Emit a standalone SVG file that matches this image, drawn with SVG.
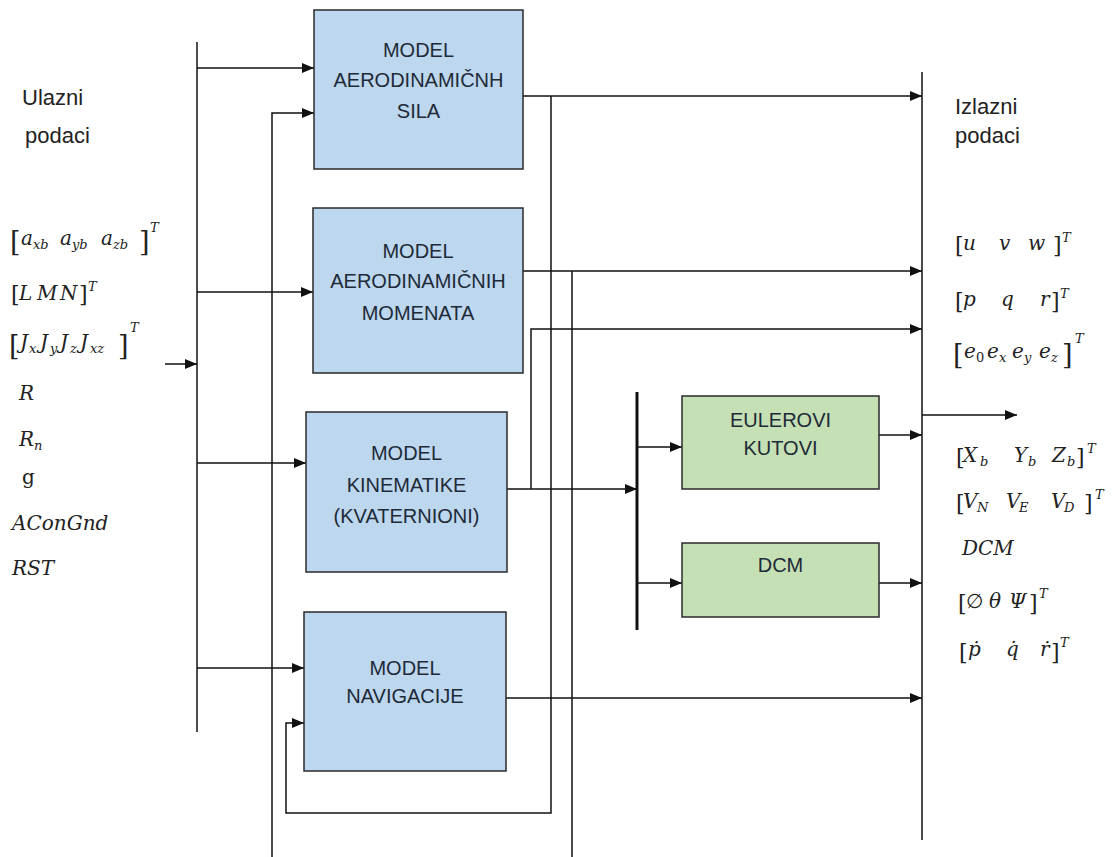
<svg xmlns="http://www.w3.org/2000/svg" width="1113" height="857" viewBox="0 0 1113 857">
<style>
.bx{fill:#bdd7ee;stroke:#2a2a2a;stroke-width:1.5}
.gx{fill:#c5e0b4;stroke:#2a2a2a;stroke-width:1.5}
.t{font-family:"Liberation Sans",Arial,sans-serif;font-size:20px;fill:#1e2a38;text-anchor:middle}
.lb{font-family:"Liberation Sans",Arial,sans-serif;font-size:22px;fill:#222}
.m{font-family:"DejaVu Serif",serif;font-style:italic;font-size:20px;fill:#222}
.s{font-size:13px}
.u{font-style:normal}
.br{font-style:normal;font-size:22px}
.bb{font-style:normal;font-size:27px}
.c line,.c path{stroke:#111;stroke-width:1.5;fill:none}
</style>
<defs>
<marker id="ah" viewBox="0 0 12 10" refX="12" refY="5" markerWidth="12" markerHeight="10" markerUnits="userSpaceOnUse" orient="auto">
<path d="M0,0 L12,5 L0,10 Z" fill="#111"/>
</marker>
</defs>
<rect width="1113" height="857" fill="#fff"/>

<g id="connectors" class="c">
<line x1="197" y1="42" x2="197" y2="732"/>
<line x1="165" y1="364" x2="197" y2="364" marker-end="url(#ah)"/>
<line x1="197" y1="68" x2="314" y2="68" marker-end="url(#ah)"/>
<line x1="197" y1="292" x2="313" y2="292" marker-end="url(#ah)"/>
<line x1="197" y1="463" x2="306" y2="463" marker-end="url(#ah)"/>
<line x1="197" y1="668" x2="304" y2="668" marker-end="url(#ah)"/>
<path d="M272,857 V113 H314" marker-end="url(#ah)"/>
<line x1="523" y1="96" x2="922" y2="96" marker-end="url(#ah)"/>
<path d="M551,96 V813 H286 V723 H304" marker-end="url(#ah)"/>
<line x1="523" y1="271" x2="922" y2="271" marker-end="url(#ah)"/>
<line x1="572" y1="271" x2="572" y2="857"/>
<line x1="507" y1="489" x2="637" y2="489" marker-end="url(#ah)"/>
<path d="M531,489 V329 H922" marker-end="url(#ah)"/>
<line x1="637" y1="392" x2="637" y2="630" style="stroke-width:3"/>
<line x1="637" y1="447" x2="682" y2="447" marker-end="url(#ah)"/>
<line x1="637" y1="583" x2="682" y2="583" marker-end="url(#ah)"/>
<line x1="879" y1="435" x2="922" y2="435" marker-end="url(#ah)"/>
<line x1="879" y1="583" x2="922" y2="583" marker-end="url(#ah)"/>
<line x1="506" y1="698" x2="922" y2="698" marker-end="url(#ah)"/>
<line x1="922" y1="72" x2="922" y2="840"/>
<line x1="922" y1="415" x2="1017" y2="415" marker-end="url(#ah)"/>
</g>

<g id="model-sila">
<rect class="bx" x="314" y="10" width="209" height="159"/>
<text class="t" x="418.5" y="57">MODEL</text>
<text class="t" x="418.5" y="87">AERODINAMIČNH</text>
<text class="t" x="418.5" y="118">SILA</text>
</g>
<g id="model-momenata">
<rect class="bx" x="313" y="208" width="210" height="165"/>
<text class="t" x="418" y="258">MODEL</text>
<text class="t" x="418" y="288">AERODINAMIČNIH</text>
<text class="t" x="418" y="320">MOMENATA</text>
</g>
<g id="model-kinematike">
<rect class="bx" x="306" y="412" width="201" height="160"/>
<text class="t" x="406.5" y="460">MODEL</text>
<text class="t" x="406.5" y="492">KINEMATIKE</text>
<text class="t" x="406.5" y="523">(KVATERNIONI)</text>
</g>
<g id="model-navigacije">
<rect class="bx" x="304" y="612" width="202" height="159"/>
<text class="t" x="405" y="675">MODEL</text>
<text class="t" x="405" y="703">NAVIGACIJE</text>
</g>
<g id="eulerovi-kutovi">
<rect class="gx" x="682" y="396" width="197" height="93"/>
<text class="t" x="780.5" y="427">EULEROVI</text>
<text class="t" x="780.5" y="455">KUTOVI</text>
</g>
<g id="dcm">
<rect class="gx" x="682" y="543" width="197" height="74"/>
<text class="t" x="780.5" y="572">DCM</text>
</g>

<g id="ulazni">
<text class="lb" x="22" y="105">Ulazni</text>
<text class="lb" x="25" y="143">podaci</text>
</g>
<g id="izlazni">
<text class="lb" x="955" y="114">Izlazni</text>
<text class="lb" x="955" y="143">podaci</text>
</g>

<g id="inputs">
<text class="m"><tspan class="bb" x="10" y="251">[</tspan><tspan x="21" y="245">a</tspan><tspan class="s" x="33" y="249">xb</tspan><tspan x="60" y="245">a</tspan><tspan class="s" x="72" y="249">yb</tspan><tspan x="101" y="245">a</tspan><tspan class="s" x="113" y="249">zb</tspan><tspan class="bb" x="139" y="251">]</tspan><tspan class="s" x="150" y="232">T</tspan></text>
<text class="m"><tspan class="br" x="11" y="302">[</tspan><tspan x="19" y="300">L</tspan><tspan x="37" y="300">M</tspan><tspan x="60" y="300">N</tspan><tspan class="br" x="79" y="302">]</tspan><tspan class="s" x="88" y="291">T</tspan></text>
<text class="m"><tspan class="bb" x="9" y="355">[</tspan><tspan x="20" y="349">J</tspan><tspan class="s" x="29" y="353">x</tspan><tspan x="40" y="349">J</tspan><tspan class="s" x="50" y="353">y</tspan><tspan x="60" y="349">J</tspan><tspan class="s" x="70" y="353">z</tspan><tspan x="80" y="349">J</tspan><tspan class="s" x="90" y="353">xz</tspan><tspan class="bb" x="118" y="355">]</tspan><tspan class="s" x="130" y="332">T</tspan></text>
<text class="m" x="19" y="400">R</text>
<text class="m"><tspan x="19" y="446">R</tspan><tspan class="s" x="34" y="450">n</tspan></text>
<text class="m u" x="22" y="484">g</text>
<text class="m" x="12" y="530">AConGnd</text>
<text class="m" x="12" y="575">RST</text>
</g>

<g id="outputs">
<text class="m"><tspan class="br" x="955" y="253">[</tspan><tspan x="963" y="250">u</tspan><tspan x="999" y="250">v</tspan><tspan x="1028" y="250">w</tspan><tspan class="br" x="1053" y="253">]</tspan><tspan class="s" x="1062" y="242">T</tspan></text>
<text class="m"><tspan class="br" x="955" y="309">[</tspan><tspan x="963" y="306">p</tspan><tspan x="1001" y="306">q</tspan><tspan x="1040" y="306">r</tspan><tspan class="br" x="1051" y="309">]</tspan><tspan class="s" x="1060" y="298">T</tspan></text>
<text class="m"><tspan class="bb" x="953" y="364">[</tspan><tspan x="964" y="358">e</tspan><tspan class="s u" x="976" y="362">0</tspan><tspan x="987" y="358">e</tspan><tspan class="s" x="999" y="362">x</tspan><tspan x="1012" y="358">e</tspan><tspan class="s" x="1024" y="362">y</tspan><tspan x="1039" y="358">e</tspan><tspan class="s" x="1051" y="362">z</tspan><tspan class="bb" x="1062" y="364">]</tspan><tspan class="s" x="1075" y="343">T</tspan></text>
<text class="m"><tspan class="br" x="956" y="465">[</tspan><tspan x="963" y="462">X</tspan><tspan class="s" x="980" y="466">b</tspan><tspan x="1014" y="462">Y</tspan><tspan class="s" x="1028" y="466">b</tspan><tspan x="1052" y="462">Z</tspan><tspan class="s" x="1067" y="466">b</tspan><tspan class="br" x="1076" y="465">]</tspan><tspan class="s" x="1087" y="453">T</tspan></text>
<text class="m"><tspan class="br" x="956" y="511">[</tspan><tspan x="963" y="508">V</tspan><tspan class="s" x="977" y="512">N</tspan><tspan x="1006" y="508">V</tspan><tspan class="s" x="1019" y="512">E</tspan><tspan x="1051" y="508">V</tspan><tspan class="s" x="1064" y="512">D</tspan><tspan class="br" x="1084" y="511">]</tspan><tspan class="s" x="1095" y="499">T</tspan></text>
<text class="m" x="962" y="555">DCM</text>
<text class="m"><tspan class="br" x="958" y="611">[</tspan><tspan class="u" x="966" y="608">∅</tspan><tspan x="989" y="608">θ</tspan><tspan x="1009" y="608">Ψ</tspan><tspan class="br" x="1029" y="611">]</tspan><tspan class="s" x="1039" y="598">T</tspan></text>
<text class="m"><tspan class="br" x="959" y="660">[</tspan><tspan x="968" y="656">ṗ</tspan><tspan x="1006" y="656">q̇</tspan><tspan x="1040" y="656">ṙ</tspan><tspan class="br" x="1051" y="660">]</tspan><tspan class="s" x="1060" y="647">T</tspan></text>
</g>
</svg>
